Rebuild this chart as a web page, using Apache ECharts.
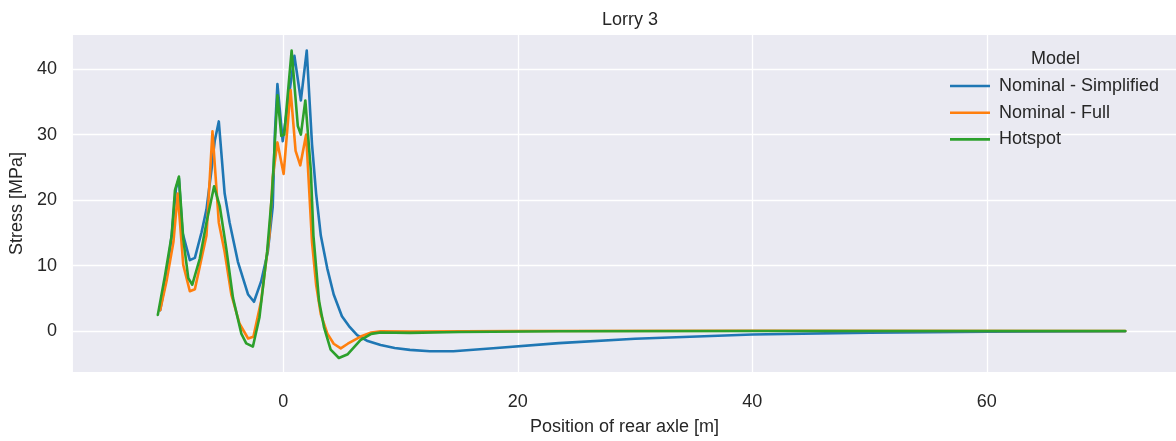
<!DOCTYPE html>
<html>
<head>
<meta charset="utf-8">
<script src="https://cdn.jsdelivr.net/npm/echarts@6/dist/echarts.min.js"></script>
<style>
html,body{margin:0;padding:0;background:#fff;}
#chart{width:1176px;height:441px;}
</style>
</head>
<body>
<div id="chart"></div>
<script>
const seriesNames = ['Nominal - Simplified', 'Nominal - Full', 'Hotspot'];
const xTicks = [0, 20, 40, 60];
const yTicks = [0, 10, 20, 30, 40];

const simplifiedX = [-10.5, -9.94, -9.52, -9.15, -8.9, -8.6, -7.97, -7.54, -6.97, -6.55, -6.13, -5.85, -5.5, -5.0, -4.58, -3.87, -3.0, -2.5, -1.89, -1.32, -0.9, -0.72, -0.5, -0.05, 0.95, 1.5, 2.0, 2.45, 2.8, 3.2, 3.75, 4.3, 5.0, 5.6, 6.3, 7.2, 8.3, 9.5, 10.8, 12.5, 14.5, 17.9, 23.5, 30, 40, 50, 60, 71.8];
const simplifiedY = [3.2, 8.6, 14.6, 21.8, 23.3, 15.1, 10.85, 11.2, 15.1, 18.6, 24.5, 29.0, 32.0, 21.0, 16.6, 10.6, 5.6, 4.5, 7.6, 12.1, 19.0, 30.0, 37.7, 29.0, 42.0, 35.2, 42.8, 28.5, 21.0, 14.6, 9.6, 5.6, 2.3, 0.8, -0.6, -1.5, -2.1, -2.55, -2.83, -3.05, -3.05, -2.6, -1.8, -1.15, -0.5, -0.2, -0.05, 0.0];

const fullX = [-10.5, -9.94, -9.37, -9.0, -8.53, -7.97, -7.54, -7.4, -6.55, -6.04, -5.5, -5.0, -4.43, -3.73, -3.0, -2.55, -1.89, -1.19, -0.9, -0.5, 0.03, 0.62, 1.05, 1.45, 1.95, 2.45, 2.8, 3.2, 3.76, 4.3, 4.9, 5.5, 6.6, 7.5, 8.3, 10.8, 20, 40, 71.8];
const fullY = [3.2, 7.8, 13.6, 21.0, 10.1, 6.1, 6.4, 6.6, 14.6, 30.5, 16.6, 12.1, 5.6, 1.15, -1.1, -0.84, 4.6, 14.6, 23.5, 28.8, 24.0, 36.8, 27.5, 25.3, 30.0, 13.6, 7.1, 2.6, -0.35, -1.9, -2.6, -1.9, -0.8, -0.2, 0.0, -0.05, 0.05, 0.08, 0.05];

const hotspotX = [-10.7, -10.08, -9.52, -9.24, -8.9, -8.53, -8.1, -7.76, -7.12, -6.55, -5.9, -5.42, -4.86, -4.29, -3.58, -3.16, -2.59, -2.03, -1.38, -0.96, -0.5, -0.17, 0.08, 0.71, 1.24, 1.5, 1.88, 2.35, 2.57, 3.05, 3.47, 4.04, 4.74, 5.5, 6.58, 7.5, 8.3, 10.8, 15, 23.5, 40, 71.8];
const hotspotY = [2.5, 8.6, 14.6, 21.5, 23.6, 14.1, 8.1, 7.1, 11.1, 16.6, 22.1, 19.1, 12.6, 5.1, -0.35, -1.84, -2.33, 2.15, 12.1, 21.0, 36.0, 29.8, 30.0, 42.8, 31.3, 30.0, 35.2, 24.5, 14.6, 4.6, 0.65, -2.8, -4.07, -3.5, -1.34, -0.4, -0.19, -0.24, -0.1, 0.0, 0.05, 0.05];

const colors = ['#1f77b4', '#ff7f0e', '#2ca02c'];
const pairs = (xs, ys) => xs.map((x, i) => [x, ys[i]]);
const allData = [pairs(simplifiedX, simplifiedY), pairs(fullX, fullY), pairs(hotspotX, hotspotY)];

const FONT = 'Liberation Sans, Arial, sans-serif';
const TXT = '#262626';

const chart = echarts.init(document.getElementById('chart'), null, {renderer: 'canvas'});
chart.setOption({
  animation: false,
  backgroundColor: '#ffffff',
  color: colors,
  title: {
    text: 'Lorry 3',
    left: 625, top: 6, textAlign: 'center',
    textStyle: {fontFamily: FONT, fontSize: 18, fontWeight: 'normal', color: TXT}
  },
  grid: {
    left: 70, top: 35, width: 1110, height: 344.3,
    show: true, backgroundColor: '#EAEAF2', borderWidth: 0, containLabel: false
  },
  legend: {
    orient: 'vertical', left: 945, top: 72,
    icon: 'rect', itemWidth: 40, itemHeight: 2.6, itemGap: 8.7,
    data: seriesNames,
    textStyle: {fontFamily: FONT, fontSize: 18, color: TXT, padding: [0, 0, 0, 4]}
  },
  graphic: [{
    type: 'text', left: 1031, top: 50,
    style: {text: 'Model', fontFamily: FONT, fontSize: 18, fill: TXT}
  }],
  xAxis: {
    type: 'value', min: -17.94, max: 76.13,
    name: 'Position of rear axle [m]', nameLocation: 'middle', nameGap: 46,
    nameTextStyle: {fontFamily: FONT, fontSize: 18, color: TXT},
    axisLine: {show: false},
    axisTick: {show: false, customValues: xTicks},
    axisLabel: {customValues: xTicks, fontFamily: FONT, fontSize: 18, color: TXT, margin: 21},
    splitLine: {show: true, lineStyle: {color: '#ffffff', width: 1.3}}
  },
  yAxis: {
    type: 'value', min: -6.21, max: 45.18,
    name: 'Stress [MPa]', nameLocation: 'middle', nameGap: 44,
    nameTextStyle: {fontFamily: FONT, fontSize: 18, color: TXT},
    axisLine: {show: false},
    axisTick: {show: false, customValues: yTicks},
    axisLabel: {customValues: yTicks, fontFamily: FONT, fontSize: 18, color: TXT, margin: 16},
    splitLine: {show: true, lineStyle: {color: '#ffffff', width: 1.3}}
  },
  series: seriesNames.map((n, i) => ({
    name: n, type: 'line', data: allData[i],
    symbol: 'none', showSymbol: false,
    lineStyle: {width: 2.6, color: colors[i], join: 'round', cap: 'round'},
    itemStyle: {color: colors[i]},
    z: 2 + i
  }))
});
</script>
</body>
</html>
